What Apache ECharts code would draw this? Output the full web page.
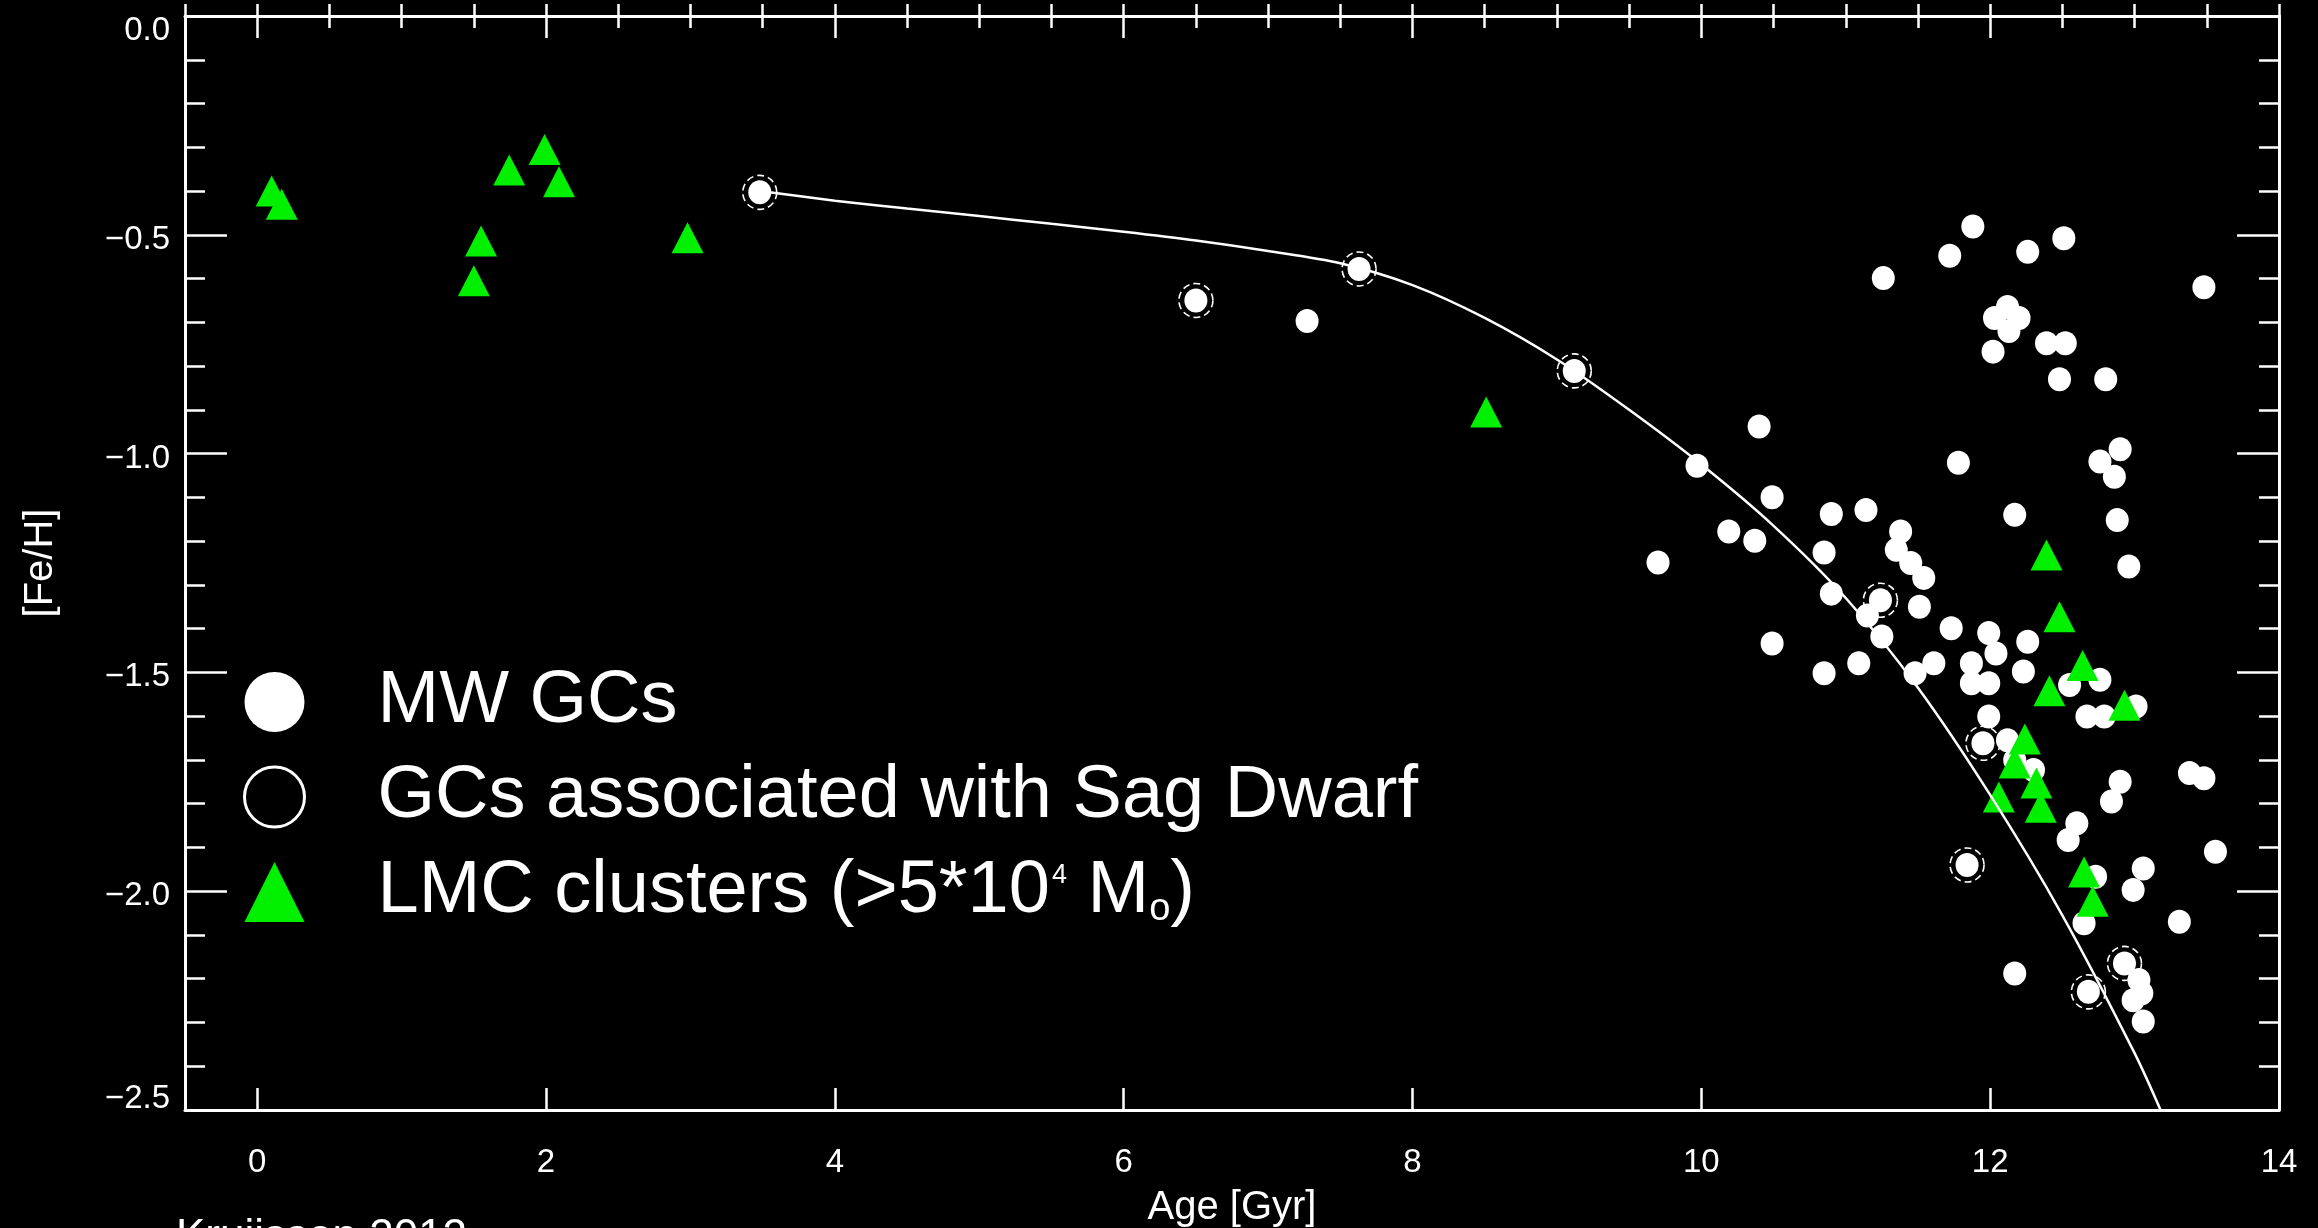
<!DOCTYPE html>
<html>
<head>
<meta charset="utf-8">
<script src="https://cdn.jsdelivr.net/npm/echarts@6/dist/echarts.min.js"></script>
<style>
  html, body { margin: 0; padding: 0; background: #000; }
  #chart { width: 2318px; height: 1228px; }
</style>
</head>
<body>
<div id="chart"></div>
<script>
// Age (Gyr) vs [Fe/H] for Milky Way globular clusters, the Sagittarius dwarf
// GCs and massive LMC clusters, with the Sag dwarf age-metallicity relation.

const xMajorTicks = [0, 2, 4, 6, 8, 10, 12, 14];
const xTickLabels = ['0', '2', '4', '6', '8', '10', '12', '14'];
const yTickLabels = ['\u22122.5', '\u22122.0', '\u22121.5', '\u22121.0', '\u22120.5', '0.0'];

// Milky Way globular clusters [age, [Fe/H]]
const mwGCs = [
  [3.48, -0.403], [6.50, -0.650], [7.63, -0.578], [7.27, -0.697], [9.12, -0.811],
  [9.70, -1.249], [9.97, -1.028], [10.40, -0.938], [10.49, -1.100], [10.90, -1.138],
  [11.14, -1.129], [10.19, -1.178], [10.37, -1.199], [10.85, -1.226], [11.38, -1.178],
  [11.35, -1.220], [11.45, -1.250], [11.54, -1.284], [10.90, -1.320], [11.24, -1.335],
  [11.15, -1.370], [11.51, -1.350], [11.25, -1.418], [10.49, -1.434], [10.85, -1.502],
  [11.09, -1.479], [11.48, -1.502], [11.61, -1.479], [11.26, -0.599],
  [11.88, -0.481], [11.72, -0.548], [12.26, -0.539], [12.51, -0.508], [13.48, -0.620],
  [12.03, -0.690], [12.12, -0.665], [12.20, -0.690], [12.13, -0.720], [12.02, -0.767],
  [12.39, -0.748], [12.52, -0.748], [12.48, -0.830], [12.80, -0.830], [11.78, -1.021],
  [12.90, -0.990], [12.76, -1.018], [12.86, -1.053], [12.17, -1.140], [12.88, -1.152],
  [12.96, -1.258],
  [11.73, -1.399], [11.99, -1.410], [12.26, -1.430], [12.04, -1.457], [11.87, -1.479],
  [12.23, -1.498], [11.87, -1.525], [11.99, -1.525], [12.55, -1.529], [12.76, -1.517],
  [11.99, -1.601], [12.67, -1.601], [12.79, -1.601], [13.01, -1.578], [11.95, -1.662],
  [12.12, -1.655], [12.30, -1.723], [12.17, -1.700], [12.90, -1.750], [13.38, -1.730],
  [13.48, -1.742], [12.84, -1.795], [12.60, -1.845], [12.54, -1.883], [13.56, -1.910],
  [11.84, -1.940], [13.06, -1.948], [12.99, -1.997], [12.73, -1.967], [13.31, -2.070],
  [12.65, -2.073], [12.17, -2.188], [12.93, -2.165], [13.03, -2.203], [13.05, -2.233],
  [12.99, -2.249], [12.68, -2.230], [13.06, -2.298]
];

// GCs associated with the Sagittarius dwarf
const sagGCs = [
  [3.48, -0.403], [6.50, -0.650], [7.63, -0.578], [9.12, -0.811], [11.24, -1.335],
  [11.95, -1.662], [11.84, -1.940], [12.68, -2.230], [12.93, -2.165]
];

// LMC clusters above 5e4 solar masses
const lmcClusters = [
  [0.10, -0.400], [0.17, -0.430], [1.50, -0.605], [1.55, -0.514], [1.745, -0.352],
  [1.99, -0.305], [2.09, -0.379], [2.98, -0.507], [8.51, -0.905],
  [12.39, -1.232], [12.48, -1.373], [12.64, -1.484], [12.41, -1.542], [12.93, -1.575],
  [12.24, -1.652], [12.17, -1.707], [12.32, -1.753], [12.06, -1.785], [12.35, -1.808],
  [12.65, -1.956], [12.71, -2.023]
];

// Sag dwarf age-metallicity relation
const sagAMR = [
  [3.48, -0.400], [4.0, -0.422], [4.5, -0.440], [5.0, -0.457], [5.5, -0.475],
  [6.0, -0.493], [6.5, -0.513], [7.0, -0.537], [7.5, -0.565], [8.0, -0.615],
  [8.5, -0.690], [9.0, -0.785], [9.5, -0.900], [10.0, -1.025], [10.5, -1.165],
  [11.0, -1.330], [11.5, -1.535], [12.0, -1.780], [12.5, -2.055], [13.0, -2.370],
  [13.18, -2.500]
];

const seriesNames = ['MW GCs', 'GCs associated with Sag Dwarf', 'LMC clusters'];

const WHITE = '#ffffff';
const GREEN = '#00f000';
const tickFont = '"Liberation Sans", Arial, sans-serif';
const legendFont = '"Liberation Sans", Helvetica, Arial, sans-serif';

const xBase = {
  type: 'value', min: -0.5, max: 14, splitLine: { show: false }
};
function xMajor(position, withLabels) {
  return Object.assign({}, xBase, {
    position: position,
    axisLine: { show: true, onZero: false, lineStyle: { color: WHITE, width: 3 } },
    axisTick: { show: true, inside: true, length: 22, customValues: xMajorTicks,
                lineStyle: { color: WHITE, width: 2.5 } },
    axisLabel: withLabels ? {
      show: true, customValues: xMajorTicks, margin: 36, color: WHITE,
      fontSize: 33, fontFamily: tickFont,
      formatter: function (v) { return xTickLabels[xMajorTicks.indexOf(v)]; }
    } : { show: false },
    name: withLabels ? 'Age [Gyr]' : '',
    nameLocation: 'middle', nameGap: 78,
    nameTextStyle: { color: WHITE, fontSize: 40, fontFamily: tickFont }
  });
}
function xMinor(position) {
  return Object.assign({}, xBase, {
    position: position, interval: 0.5,
    axisLine: { show: false },
    axisTick: { show: true, inside: true, length: 12, lineStyle: { color: WHITE, width: 2.5 } },
    axisLabel: { show: false }
  });
}
function yAxis(position, withLabels) {
  return {
    type: 'value', position: position, min: -2.5, max: 0, interval: 0.5,
    splitLine: { show: false },
    axisLine: { show: true, onZero: false, lineStyle: { color: WHITE, width: 3 } },
    axisTick: { show: true, inside: true, length: 42, lineStyle: { color: WHITE, width: 2.5 } },
    minorTick: { show: true, splitNumber: 5, length: 20, lineStyle: { color: WHITE, width: 2.5 } },
    axisLabel: withLabels ? {
      show: true, margin: 15, color: WHITE, fontSize: 33, fontFamily: tickFont,
      formatter: function (v, i) {
        const t = yTickLabels[i];
        if (i === yTickLabels.length - 1) return '{t|' + t + '}';
        if (i === 0) return '{b|' + t + '}';
        return '{m|' + t + '}';
      },
      rich: {
        t: { color: WHITE, fontSize: 33, fontFamily: tickFont, padding: [30, 0, 0, 0] },
        m: { color: WHITE, fontSize: 33, fontFamily: tickFont, padding: [10, 0, 0, 0] },
        b: { color: WHITE, fontSize: 33, fontFamily: tickFont, padding: [0, 0, 22, 0] }
      }
    } : { show: false },
    name: withLabels ? '[Fe/H]' : '',
    nameLocation: 'middle', nameGap: 124, nameRotate: 90,
    nameTextStyle: { color: WHITE, fontSize: 40, fontFamily: tickFont }
  };
}

const legendRich = {
  sp: { width: 68 },
  n: { color: WHITE, fontSize: 74, fontFamily: legendFont },
  sup: { color: WHITE, fontSize: 27, fontFamily: legendFont, verticalAlign: 'middle',
         padding: [0, 0, 32, 2] },
  sub: { color: WHITE, fontSize: 38, fontFamily: legendFont, verticalAlign: 'bottom' }
};

const chart = echarts.init(document.getElementById('chart'), null, { renderer: 'canvas' });
chart.setOption({
  backgroundColor: '#000000',
  animation: false,
  grid: { left: 185, right: 39, top: 16, bottom: 118, containLabel: false,
          outerBoundsMode: 'none' },
  xAxis: [xMajor('bottom', true), xMinor('bottom'), xMajor('top', false), xMinor('top')],
  yAxis: [yAxis('left', true), yAxis('right', false)],
  legend: {
    orient: 'vertical', left: 238, top: 660, padding: 5,
    itemWidth: 60, itemHeight: 60, itemGap: 21,
    selectedMode: false,
    data: [
      { name: seriesNames[0], icon: 'circle',
        itemStyle: { color: WHITE, borderWidth: 0, opacity: 1 } },
      { name: seriesNames[1], icon: 'circle',
        itemStyle: { color: 'rgba(0,0,0,0)', borderColor: WHITE, borderWidth: 3,
                     borderType: 'solid', opacity: 1 } },
      { name: seriesNames[2], icon: 'triangle',
        itemStyle: { color: GREEN, borderWidth: 0, opacity: 1 } }
    ],
    formatter: function (name) {
      if (name === seriesNames[2]) {
        return '{sp|}{n|LMC clusters (>5*10}{sup|4}{n| M}{sub|o}{n|)}';
      }
      return '{sp|}{n|' + name + '}';
    },
    textStyle: { color: WHITE, fontSize: 74, fontFamily: legendFont, rich: legendRich }
  },
  graphic: [{
    type: 'text', left: 176, top: 1216,
    style: { text: 'Kruijssen 2012', fill: WHITE, font: '44px ' + legendFont }
  }],
  series: [
    {
      name: seriesNames[0], type: 'scatter', data: mwGCs,
      symbol: 'circle', symbolSize: [23, 24],
      itemStyle: { color: WHITE, opacity: 1 },
      emphasis: { disabled: true }
    },
    {
      name: seriesNames[1], type: 'scatter', data: sagGCs,
      symbol: 'circle', symbolSize: 34,
      itemStyle: { color: 'rgba(0,0,0,0)', borderColor: WHITE, borderWidth: 1.6,
                   borderType: [7, 4], opacity: 1 },
      emphasis: { disabled: true }
    },
    {
      name: 'Sag AMR', type: 'line', data: sagAMR,
      showSymbol: false, symbol: 'none', smooth: 0.3,
      lineStyle: { color: WHITE, width: 2.5 },
      emphasis: { disabled: true }
    },
    {
      name: seriesNames[2], type: 'scatter', data: lmcClusters,
      symbol: 'triangle', symbolSize: [32, 31],
      itemStyle: { color: GREEN, opacity: 1 },
      emphasis: { disabled: true }
    }
  ]
});
</script>
</body>
</html>
